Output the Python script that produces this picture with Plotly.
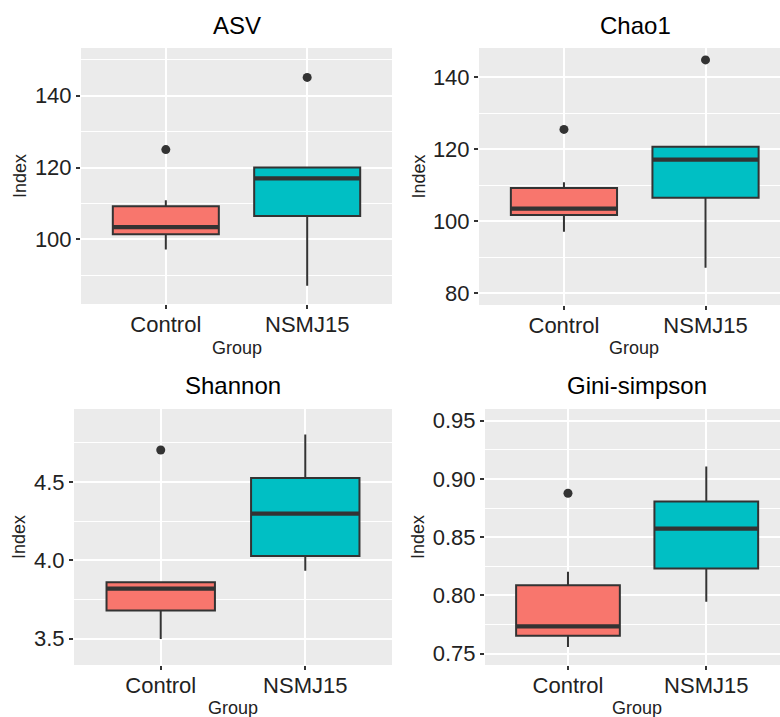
import plotly.graph_objects as go

# ---------------- data ----------------
groups = ["Control", "NSMJ15"]
fill_colors = ["#F8766D", "#00BFC4"]

asv_lo = [97.2, 87.1]
asv_q1 = [101.4, 106.5]
asv_med = [103.4, 117.0]
asv_q3 = [109.2, 120.0]
asv_hi = [110.9, 120.0]
asv_out = [[125.0], [145.1]]

chao_lo = [97.1, 87.1]
chao_q1 = [101.75, 106.5]
chao_med = [103.5, 117.1]
chao_q3 = [109.2, 120.7]
chao_hi = [110.8, 120.7]
chao_out = [[125.5], [144.8]]

shan_lo = [3.498, 3.934]
shan_q1 = [3.68, 4.028]
shan_med = [3.82, 4.298]
shan_q3 = [3.86, 4.526]
shan_hi = [3.86, 4.804]
shan_out = [[4.704], []]

gini_lo = [0.7557, 0.7946]
gini_q1 = [0.7655, 0.8232]
gini_med = [0.7735, 0.8574]
gini_q3 = [0.8087, 0.8807]
gini_hi = [0.8204, 0.9106]
gini_out = [[0.8877], []]

titles = ["ASV", "Chao1", "Shannon", "Gini-simpson"]

panels = [
    dict(lo=asv_lo, q1=asv_q1, med=asv_med, q3=asv_q3, hi=asv_hi, out=asv_out),
    dict(lo=chao_lo, q1=chao_q1, med=chao_med, q3=chao_q3, hi=chao_hi, out=chao_out),
    dict(lo=shan_lo, q1=shan_q1, med=shan_med, q3=shan_q3, hi=shan_hi, out=shan_out),
    dict(lo=gini_lo, q1=gini_q1, med=gini_med, q3=gini_q3, hi=gini_hi, out=gini_out),
]

# ---------------- layout geometry ----------------
W, H = 780, 717
# panel pixel boxes: (left, right, top, bottom)
boxes_px = [(81, 392, 48, 304), (479, 780, 48, 305), (74, 392, 409, 665), (485, 780, 409, 665)]
xranges = [[0.4, 2.6], [0.4, 2.526], [0.4, 2.6], [0.4, 2.533]]
yranges = [[82.0, 153.3], [76.75, 148.1], [3.332, 4.966], [0.7403, 0.960]]
ydticks = [20, 20, 0.5, 0.05]
yminor = [10, 10, 0.25, 0.025]
yformats = ["", "", ".1f", ".2f"]
title_x_px = [237, 635, 233, 637]
title_y_px = [25, 25, 385, 385]
group_x_px = [237, 634, 233, 637]
group_y_px = [348, 348, 708, 708]
index_x_px = [20, 418, 19, 418]


def px_x(v):
    return v / W


def px_y(v):
    return 1 - v / H


BOX_W = 0.75
EDGE = "#333333"
TXT = "#222222"
FONT = "Liberation Sans, Arial, sans-serif"

fig = go.Figure()
layout = dict(
    width=W, height=H,
    margin=dict(l=0, r=0, t=0, b=0),
    paper_bgcolor="white",
    plot_bgcolor="#EBEBEB",
    showlegend=False,
    font=dict(family=FONT, color=TXT),
    boxmode="overlay",
    annotations=[],
)

for i, p in enumerate(panels):
    k = "" if i == 0 else str(i + 1)
    xa, ya = "x" + k, "y" + k
    for g, name in enumerate(groups):
        pos = g + 1
        fig.add_trace(go.Box(
            x=[pos], q1=[p["q1"][g]], median=[p["med"][g]], q3=[p["q3"][g]],
            lowerfence=[p["lo"][g]], upperfence=[p["hi"][g]],
            width=BOX_W, whiskerwidth=0, boxpoints=False,
            fillcolor=fill_colors[g], line=dict(color=EDGE, width=2),
            name=name, xaxis=xa, yaxis=ya, showlegend=False,
        ))
        fig.add_trace(go.Scatter(
            x=[pos - BOX_W / 2, pos + BOX_W / 2], y=[p["med"][g], p["med"][g]],
            mode="lines", line=dict(color=EDGE, width=4.2),
            xaxis=xa, yaxis=ya, showlegend=False, hoverinfo="skip",
        ))
        if p["out"][g]:
            fig.add_trace(go.Scatter(
                x=[pos] * len(p["out"][g]), y=p["out"][g], mode="markers",
                marker=dict(color=EDGE, size=9),
                xaxis=xa, yaxis=ya, showlegend=False,
            ))

    l, r, t, b = boxes_px[i]
    layout["xaxis" + k] = dict(
        domain=[px_x(l), min(1.0, px_x(r))], range=xranges[i], anchor=ya,
        tickmode="array", tickvals=[1, 2], ticktext=groups,
        ticks="outside", ticklen=4, tickwidth=1.5, tickcolor=EDGE,
        ticklabelstandoff=-3,
        showgrid=True, gridcolor="white", gridwidth=1.6,
        zeroline=False, showline=False, automargin=False,
        tickfont=dict(size=22, color=TXT, family=FONT),
    )
    layout["yaxis" + k] = dict(
        domain=[px_y(b), px_y(t)], range=yranges[i], anchor=xa,
        tick0=0, dtick=ydticks[i], tickformat=yformats[i],
        ticks="outside", ticklen=4, tickwidth=1.5, tickcolor=EDGE,
        showgrid=True, gridcolor="white", gridwidth=1.6,
        minor=dict(dtick=yminor[i], tick0=0, showgrid=True, gridcolor="white", gridwidth=0.8, ticks=""),
        zeroline=False, showline=False, automargin=False,
        tickfont=dict(size=22, color=TXT, family=FONT),
    )
    layout["annotations"].append(dict(
        text=titles[i], x=px_x(title_x_px[i]), y=px_y(title_y_px[i]),
        xref="paper", yref="paper", showarrow=False,
        xanchor="center", yanchor="middle",
        font=dict(size=24, color="black", family=FONT),
    ))
    layout["annotations"].append(dict(
        text="Group", x=px_x(group_x_px[i]), y=px_y(group_y_px[i]),
        xref="paper", yref="paper", showarrow=False,
        xanchor="center", yanchor="middle",
        font=dict(size=18, color=TXT, family=FONT),
    ))
    layout["annotations"].append(dict(
        text="Index", x=px_x(index_x_px[i]), y=px_y((t + b) / 2),
        xref="paper", yref="paper", showarrow=False, textangle=-90,
        xanchor="center", yanchor="middle",
        font=dict(size=18, color=TXT, family=FONT),
    ))

fig.update_layout(**layout)
# remove the page's default body margin so the 780x717 figure fills the window
fig.write_html(
    "out.html",
    config={"displayModeBar": False},
    post_script="document.body.style.margin='0';document.body.style.overflow='hidden';",
)
